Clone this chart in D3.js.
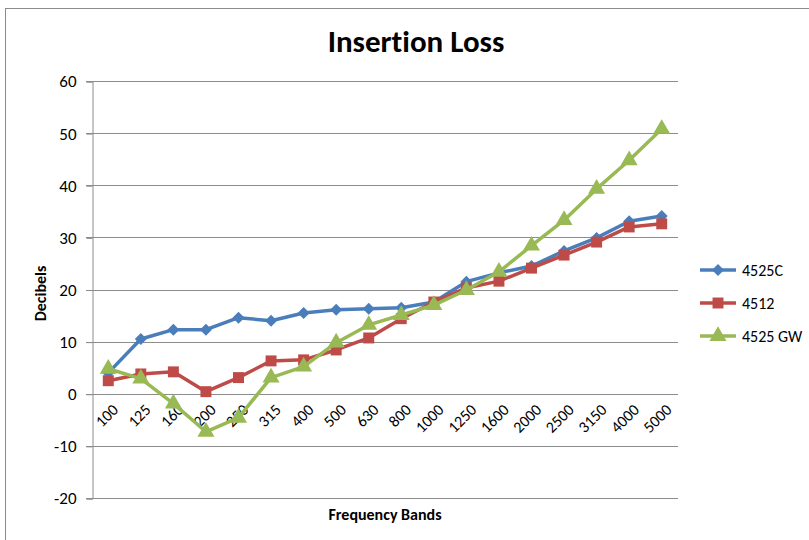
<!DOCTYPE html>
<html>
<head>
<meta charset="utf-8">
<script src="https://cdn.jsdelivr.net/npm/d3@7"></script>
<style>
  body { margin: 0; background: #fff; }
  svg { display: block; }
  text {
    font-family: Carlito, "Liberation Sans Narrow", "Open Sans", sans-serif;
    font-variant-ligatures: none;
  }
</style>
</head>
<body>
<div id="chart"></div>
<script>
// Frequency bands (Hz) on the category axis
const bands = ['100', '125', '160', '200', '250', '315', '400', '500', '630', '800',
  '1000', '1250', '1600', '2000', '2500', '3150', '4000', '5000']

// Insertion loss per band, dB
const loss4525C = [4.0, 10.5, 12.3, 12.3, 14.6, 14.0, 15.5, 16.1, 16.3, 16.5,
  17.6, 21.5, 23.2, 24.5, 27.4, 29.9, 33.1, 34.1]
const loss4512 = [2.5, 3.8, 4.2, 0.4, 3.1, 6.3, 6.5, 8.4, 10.7, 14.4,
  17.6, 20.3, 21.6, 24.1, 26.6, 29.1, 32.0, 32.6]
const loss4525GW = [4.8, 2.9, -1.9, -7.3, -4.6, 3.1, 5.2, 9.8, 13.2, 15.1,
  17.0, 19.9, 23.4, 28.4, 33.3, 39.3, 44.8, 50.8]

const yTicks = [-20, -10, 0, 10, 20, 30, 40, 50, 60]

const seriesNames = ['4525C', '4512', '4525 GW']
const seriesValues = [loss4525C, loss4512, loss4525GW]
const seriesColors = ['#4a7ebb', '#be4b48', '#98b954']

// Excel-like diamond: a square turned 45 degrees
const excelDiamond = {
  draw(ctx, size) {
    const r = Math.sqrt(size / 2)
    ctx.moveTo(0, -r)
    ctx.lineTo(r, 0)
    ctx.lineTo(0, r)
    ctx.lineTo(-r, 0)
    ctx.closePath()
  }
}
const seriesSymbols = [excelDiamond, d3.symbolSquare, d3.symbolTriangle]
const symbolSizes = [72, 120, 125]

const width = 809
const height = 540
const plot = { left: 92, right: 678, top: 81, bottom: 498 }
const fontStack = 'Carlito, "Liberation Sans Narrow", "Open Sans", sans-serif'

const svg = d3.select('#chart')
  .append('svg')
  .attr('width', width)
  .attr('height', height)

// Chart frame
svg.append('rect')
  .attr('x', 5.5).attr('y', 8.5)
  .attr('width', 820).attr('height', 560)
  .attr('fill', '#fff')
  .attr('stroke', '#8c8c8c')
  .attr('stroke-width', 1)

const x = d3.scaleBand()
  .domain(bands)
  .range([plot.left, plot.right])

const y = d3.scaleLinear()
  .domain([-20, 60])
  .range([plot.bottom, plot.top])

// Gridlines
svg.append('g')
  .selectAll('line')
  .data(yTicks)
  .join('line')
  .attr('x1', plot.left - 6)
  .attr('x2', plot.right)
  .attr('y1', d => Math.round(y(d)) + 0.5)
  .attr('y2', d => Math.round(y(d)) + 0.5)
  .attr('stroke', '#8c8c8c')
  .attr('stroke-width', 1)

// Y axis
const yAxis = svg.append('g')
  .attr('transform', `translate(${plot.left + 0.5},0.5)`)
  .call(d3.axisLeft(y).tickValues(yTicks).tickSize(6).tickPadding(10).tickFormat(d => String(d)))
yAxis.select('.domain').attr('stroke', '#8c8c8c')
yAxis.selectAll('.tick line').attr('stroke', '#8c8c8c')
yAxis.selectAll('.tick text')
  .attr('font-size', 17)
  .attr('fill', '#000')
  .style('font-family', fontStack)

// X category labels, rotated
const xAxis = svg.append('g')
  .attr('transform', `translate(0,${y(0)})`)
  .call(d3.axisBottom(x).tickSize(0).tickPadding(0))
xAxis.select('.domain').remove()
xAxis.selectAll('.tick text')
  .attr('font-size', 16)
  .attr('fill', '#000')
  .attr('text-anchor', 'end')
  .attr('dy', 0)
  .attr('transform', 'translate(11,17) rotate(-45)')
  .style('font-family', fontStack)

// Lines and markers
const line = d3.line()
  .x((d, i) => x(bands[i]) + x.bandwidth() / 2)
  .y(d => y(d))

seriesValues.forEach((vals, s) => {
  svg.append('path')
    .datum(vals)
    .attr('fill', 'none')
    .attr('stroke', seriesColors[s])
    .attr('stroke-width', 3.5)
    .attr('stroke-linejoin', 'round')
    .attr('d', line)

  svg.append('g')
    .selectAll('path')
    .data(vals)
    .join('path')
    .attr('transform', (d, i) => `translate(${x(bands[i]) + x.bandwidth() / 2},${y(d)})`)
    .attr('d', d3.symbol().type(seriesSymbols[s]).size(symbolSizes[s]))
    .attr('fill', seriesColors[s])
})

// Legend
const legend = svg.append('g')
  .selectAll('g')
  .data(seriesNames)
  .join('g')
  .attr('transform', (d, i) => `translate(700,${270 + i * 33})`)

legend.append('line')
  .attr('x1', 0).attr('x2', 36)
  .attr('stroke', (d, i) => seriesColors[i])
  .attr('stroke-width', 3.5)
legend.append('path')
  .attr('transform', 'translate(18,0)')
  .attr('d', (d, i) => d3.symbol().type(seriesSymbols[i]).size(symbolSizes[i])())
  .attr('fill', (d, i) => seriesColors[i])
legend.append('text')
  .attr('x', 42)
  .attr('y', 5.5)
  .attr('font-size', 16)
  .text(d => d)

// Title and axis titles
svg.append('text')
  .attr('x', 416)
  .attr('y', 52)
  .attr('text-anchor', 'middle')
  .attr('font-size', 31)
  .attr('font-weight', 'bold')
  .text('Insertion Loss')

svg.append('text')
  .attr('transform', `translate(46,${(plot.top + plot.bottom) / 2 + 4}) rotate(-90)`)
  .attr('text-anchor', 'middle')
  .attr('font-size', 16)
  .attr('font-weight', 'bold')
  .text('Decibels')

svg.append('text')
  .attr('x', 385)
  .attr('y', 520)
  .attr('text-anchor', 'middle')
  .attr('font-size', 16)
  .attr('font-weight', 'bold')
  .text('Frequency Bands')
</script>
</body>
</html>
